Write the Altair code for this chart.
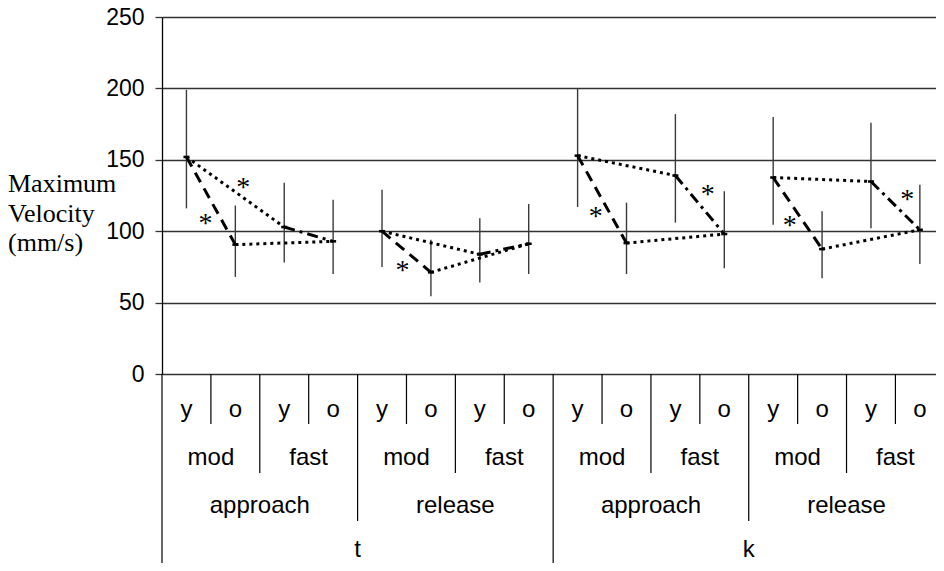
import altair as alt
import pandas as pd

# ---- data ----
tops = ["t", "k"]
phases = ["approach", "release"]
speeds = ["mod", "fast"]
ages = ["y", "o"]

means = [152.0, 90.6, 102.9, 92.9, 100.0, 71.2, 83.8, 91.2,
         152.9, 91.7, 139.0, 98.0, 137.6, 87.5, 134.8, 101.0]
upper = [199, 118, 134, 122, 129, 94, 109, 119,
         200, 120, 182, 128, 180, 114, 176, 132.5]
lower = [116, 68, 78, 70, 75, 54.5, 64, 70,
         117, 70, 106, 74, 104.5, 67, 102, 77]

ast_x = [0.39, 1.16, 4.42, 8.37, 10.66, 12.34, 14.74]
ast_y = [108.7, 133.6, 75.4, 113.4, 129.0, 107.3, 125.5]

y_ticks = [0, 50, 100, 150, 200, 250]
y_title = "Maximum\nVelocity\n(mm/s)"

# ---- tables ----
n = len(means)
slots = pd.DataFrame({
    "slot": list(range(n)),
    "mean": means,
    "upper": upper,
    "lower": lower,
})

seg_rows = []
for g in range(n // 4):
    a = 4 * g
    pairs = [("dash", a, a + 1), ("dot", a, a + 2), ("dot", a + 1, a + 3), ("dashdot", a + 2, a + 3)]
    for k, (style, s0, s1) in enumerate(pairs):
        for s in (s0, s1):
            seg_rows.append({"seg": f"{g}-{k}", "style": style, "slot": s, "v": means[s]})
segs = pd.DataFrame(seg_rows)

ast = pd.DataFrame({"slot": ast_x, "v": ast_y, "t": ["*"] * len(ast_x)})

row1 = pd.DataFrame({"slot": [i for i in range(n)], "t": [ages[i % 2] for i in range(n)]})
row2 = pd.DataFrame({"slot": [2 * m + 0.5 for m in range(n // 2)], "t": [speeds[m % 2] for m in range(n // 2)]})
row3 = pd.DataFrame({"slot": [4 * p + 1.5 for p in range(n // 4)], "t": [phases[p % 2] for p in range(n // 4)]})
row4 = pd.DataFrame({"slot": [8 * q + 3.5 for q in range(n // 8)], "t": tops})

def level(j):
    if j % 8 == 0:
        return 4
    if j % 4 == 0:
        return 3
    if j % 2 == 0:
        return 2
    return 1

bounds = pd.DataFrame({"slot": [j - 0.5 for j in range(n)], "lvl": [level(j) for j in range(n)]})

# ---- layout ----
W, H = 774, 357
xscale = alt.Scale(domain=[-0.5, 15.33], nice=False, zero=False)
yscale = alt.Scale(domain=[0, 250], nice=False)
X = alt.X("slot:Q", scale=xscale, axis=None)
SANS = "Liberation Sans, Arial"
SERIF = "Liberation Serif, Times New Roman"

base_axis = alt.Axis(values=y_ticks, grid=True, gridColor="#333", gridWidth=1.3,
                     tickColor="#333", tickSize=7, tickWidth=1.3,
                     domainColor="black", domainWidth=1.3,
                     labelFont=SANS, labelFontSize=23, labelColor="black",
                     labelPadding=11, title=None)

err = alt.Chart(slots).mark_rule(color="#3a3a3a", strokeWidth=1.4).encode(
    x=X,
    y=alt.Y("lower:Q", scale=yscale, axis=base_axis),
    y2="upper:Q",
)

styles = {"dash": [11, 7], "dot": [3, 4], "dashdot": [11, 5, 3, 5]}
line_layers = []
for st, dash in styles.items():
    line_layers.append(
        alt.Chart(segs).transform_filter(alt.datum.style == st)
        .mark_line(color="black", strokeWidth=3, strokeDash=dash, strokeCap="butt")
        .encode(x=X, y=alt.Y("v:Q", scale=yscale), detail="seg:N", order="slot:Q")
    )

markers = alt.Chart(slots).mark_point(
    shape="M-1,-0.42L1,-0.42L1,0.42L-1,0.42Z", filled=True, size=36,
    color="black", opacity=1,
).encode(x=X, y=alt.Y("mean:Q", scale=yscale))

stars = alt.Chart(ast).mark_text(font=SERIF, fontSize=28, baseline="alphabetic",
                                 dy=13, color="black").encode(
    x=X, y=alt.Y("v:Q", scale=yscale), text="t:N")

def label_row(df, ypix):
    return alt.Chart(df).mark_text(font=SANS, fontSize=24, color="black",
                                   baseline="middle").encode(
        x=X, y=alt.value(ypix), text="t:N")

rows = [label_row(row1, H + 36), label_row(row2, H + 84),
        label_row(row3, H + 132), label_row(row4, H + 176)]

lens = {1: 50, 2: 99, 3: 147, 4: 220}
sep_layers = []
for lv, L in lens.items():
    sep_layers.append(
        alt.Chart(bounds).transform_filter(alt.datum.lvl == lv)
        .mark_rule(color="black", strokeWidth=1.2)
        .encode(x=X, y=alt.value(H), y2=alt.value(H + L))
    )

title = alt.Chart(pd.DataFrame({"t": [y_title]})).mark_text(
    font=SERIF, fontSize=26, align="left", baseline="alphabetic",
    lineBreak="\n", lineHeight=29.5, color="black",
).encode(x=alt.value(-154), y=alt.value(175), text="t:N")

chart = alt.layer(err, *line_layers, markers, stars, *rows, *sep_layers, title).properties(
    width=W, height=H,
    autosize=alt.AutoSizeParams(type="none"),
    padding={"left": 154, "top": 9, "right": 0, "bottom": 189},
    background="white",
).configure_view(strokeWidth=0)

chart.save("out.html", embed_options={"renderer": "svg", "actions": False})
